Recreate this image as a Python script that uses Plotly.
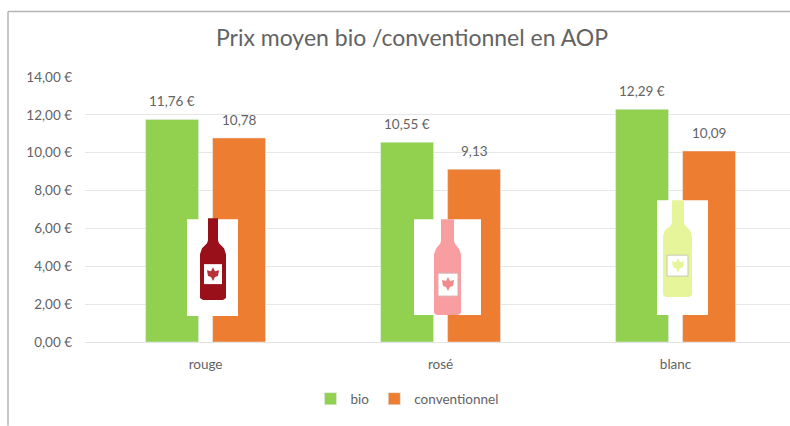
import plotly.graph_objects as go

categories = ["rouge", "rosé", "blanc"]
bio = [11.76, 10.55, 12.29]
conventionnel = [10.78, 9.13, 10.09]
bio_labels = ["11,76 €", "10,55 €", "12,29 €"]
conv_labels = ["10,78", "9,13", "10,09"]
tick_vals = [0, 2, 4, 6, 8, 10, 12, 14]
tick_text = ["0,00 €", "2,00 €", "4,00 €", "6,00 €", "8,00 €", "10,00 €", "12,00 €", "14,00 €"]

W, H = 790, 426
L, T, B = 85, 76.5, 84
PW, PH = W - L, H - T - B
FONT = "Lato, Open Sans, sans-serif"
TXT = "#636363"
LABEL_SIZE = 13.5

fig = go.Figure()
fig.add_bar(name="bio", x=categories, y=bio, marker_color="#92d050")
fig.add_bar(name="conventionnel", x=categories, y=conventionnel, marker_color="#ed7d31")


def fx(x):
    return (x - L) / PW


def fy(y):
    return 1 - (y - T) / PH


def px(x, y):
    return f"{fx(x):.5f},{fy(y):.5f}"


def rect(x0, y0, x1, y1, color, line=None):
    return dict(type="rect", xref="paper", yref="paper", x0=fx(x0), x1=fx(x1), y0=fy(y0), y1=fy(y1),
                fillcolor=color, line=dict(width=0 if line is None else 1, color=line or color), layer="above")


def poly(pts, color):
    path = "M " + " L ".join(px(*p) for p in pts) + " Z"
    return dict(type="path", xref="paper", yref="paper", path=path, fillcolor=color, line=dict(width=0), layer="above")


def bottle(bx0, bx1, nx0, nx1, top, shoulder, body, bottom, color):
    mid = (shoulder + body) / 2
    return poly([(nx0, top), (nx1, top), (nx1, shoulder), (nx1 + 1, mid - 2), (bx1 - 2, mid + 3), (bx1, body + 4),
                 (bx1, bottom - 2), (bx1 - 3, bottom), (bx0 + 3, bottom), (bx0, bottom - 2), (bx0, body + 4),
                 (bx0 + 2, mid + 3), (nx0 - 1, mid - 2), (nx0, shoulder)], color)


def emblem(cx, cy, color):
    return poly([(cx - 6, cy - 4), (cx - 2, cy - 3), (cx, cy - 7), (cx + 2, cy - 3), (cx + 6, cy - 4), (cx + 5, cy + 2),
                 (cx + 2, cy + 3), (cx, cy + 7), (cx - 2, cy + 3), (cx - 5, cy + 2)], color)


shapes = [
    dict(type="line", xref="paper", yref="paper", x0=fx(8), x1=fx(8), y0=fy(426), y1=fy(11),
         line=dict(color="#b5b5b5", width=1.5), layer="above"),
    dict(type="line", xref="paper", yref="paper", x0=fx(8), x1=1, y0=fy(11), y1=fy(11),
         line=dict(color="#b5b5b5", width=1.5), layer="above"),
    # rouge
    rect(187, 219, 238, 316, "white"),
    bottle(200, 226, 208, 218, 218, 240, 250, 300, "#99101a"),
    rect(204, 264, 222, 284, "white"),
    emblem(213, 274, "#b8323c"),
    # rosé
    rect(414, 219, 481, 315, "white"),
    bottle(434, 461, 441, 454, 219, 241, 250, 315, "#f89da0"),
    rect(438, 273, 458, 296, "white", "#d8b0b0"),
    emblem(448, 284, "#f28a8d"),
    # blanc
    rect(657, 200, 708, 315, "white"),
    bottle(663, 692, 672, 684, 200, 222, 232, 297, "#e6f59a"),
    rect(667, 255, 688, 276, "white", "#c8c8b8"),
    emblem(678, 265, "#e6f59a"),
]

annotations = []
for labels, values, shift in ((bio_labels, bio, -33.5), (conv_labels, conventionnel, 33.5)):
    for cat, val, lab in zip(categories, values, labels):
        annotations.append(dict(x=cat, y=val, text=lab, showarrow=False, xshift=shift, yshift=18, yanchor="middle",
                                font=dict(size=LABEL_SIZE, color=TXT, family=FONT)))

fig.update_layout(
    width=W, height=H, autosize=False,
    paper_bgcolor="white", plot_bgcolor="white",
    margin=dict(l=L, r=0, t=T, b=B),
    font=dict(family=FONT, size=LABEL_SIZE, color=TXT),
    title=dict(text="Prix moyen bio /conventionnel en AOP", x=412 / W, xanchor="center", y=1 - 38 / H,
               yanchor="middle", font=dict(size=23, color=TXT, family=FONT)),
    barmode="group", bargap=0.43, bargroupgap=0.21,
    showlegend=True,
    legend=dict(orientation="h", x=fx(407), xanchor="center", y=fy(399), yanchor="middle",
                font=dict(size=LABEL_SIZE, color=TXT), traceorder="normal"),
    shapes=shapes,
    annotations=annotations,
    xaxis=dict(range=[-0.513, 2.487], showgrid=False, ticks="", showline=True, linecolor="#e3e3e3", linewidth=1,
               ticklabelstandoff=10, tickfont=dict(size=LABEL_SIZE, color=TXT)),
    yaxis=dict(range=[0, 14], tickvals=tick_vals, ticktext=tick_text, gridcolor="#e6e6e6", gridwidth=1,
               zeroline=False, showline=False, ticks="", ticklabelstandoff=12, tickfont=dict(size=LABEL_SIZE, color=TXT)),
)

fig.write_html("out.html", config=dict(displayModeBar=False),
               post_script="document.body.style.margin='0';document.body.style.overflow='hidden';")
